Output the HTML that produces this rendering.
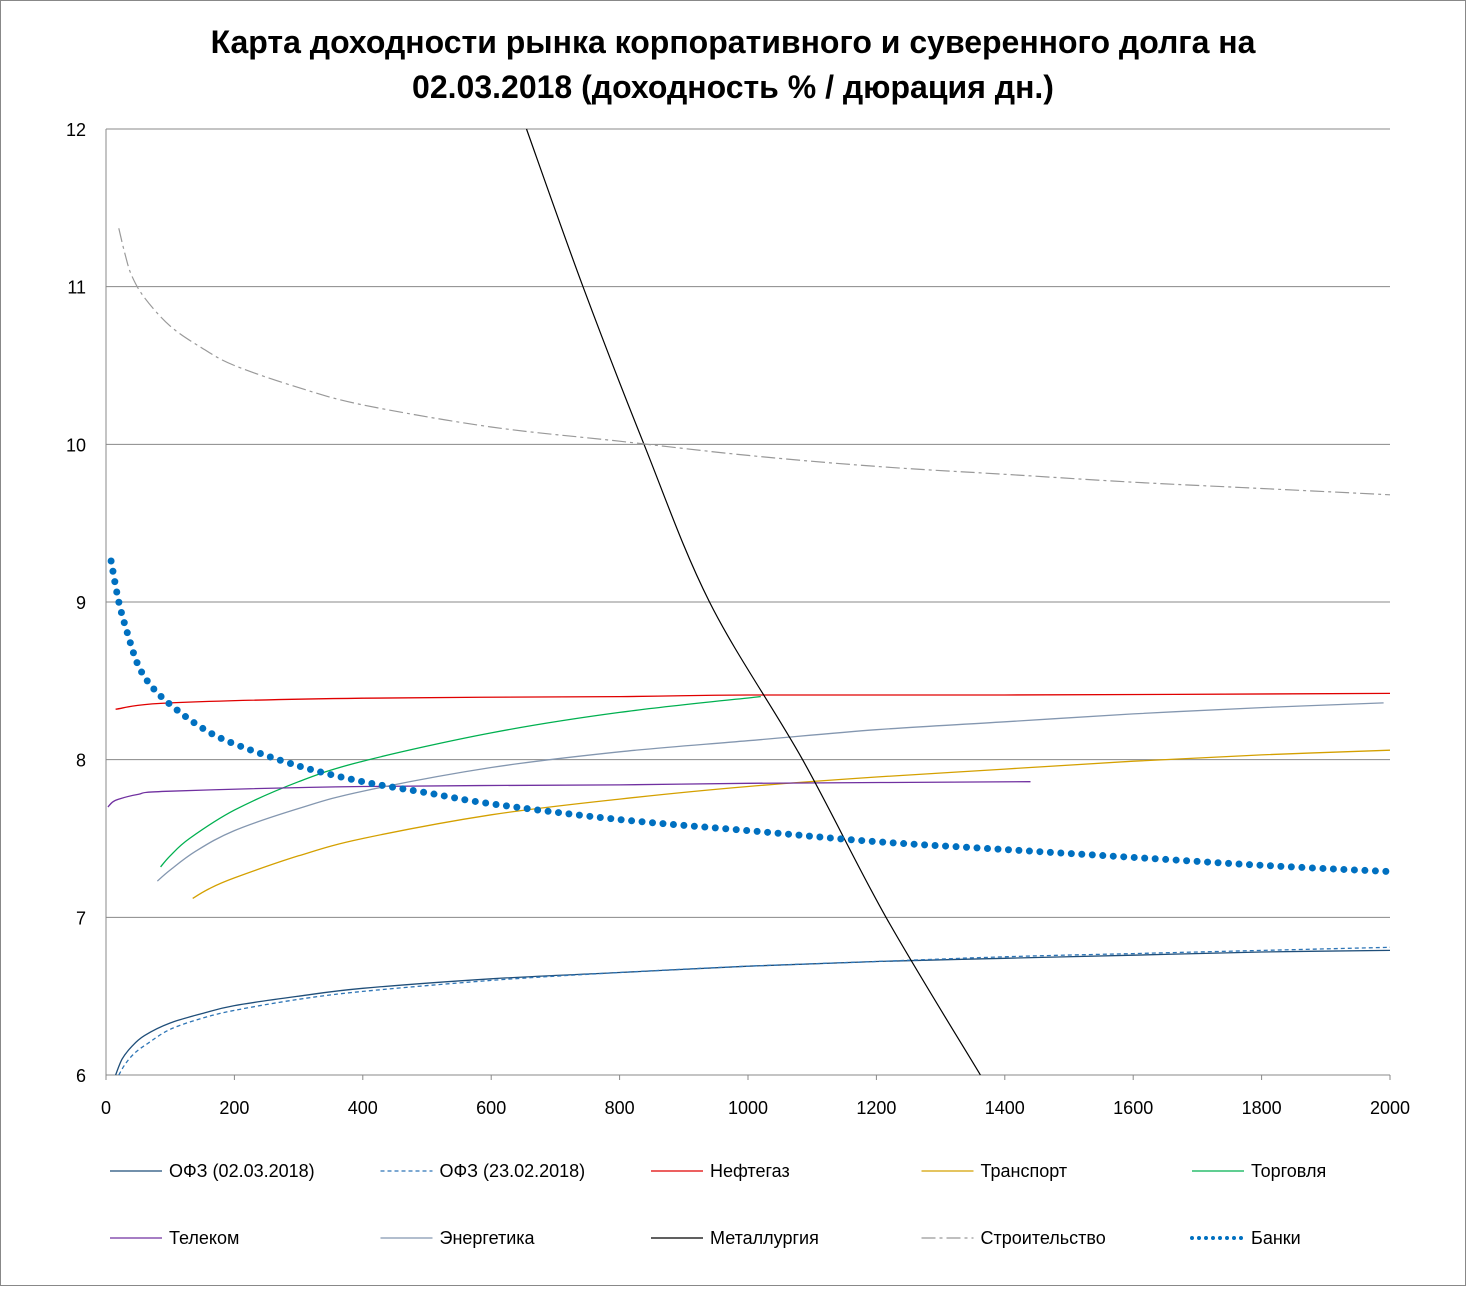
<!DOCTYPE html>
<html><head><meta charset="utf-8">
<style>
body{margin:0;background:#fff;font-family:"Liberation Sans","DejaVu Sans",sans-serif;}
svg text{font-family:"Liberation Sans","DejaVu Sans",sans-serif;}
</style></head>
<body>
<svg id="chart" width="1467" height="1287" xmlns="http://www.w3.org/2000/svg">
<rect x="0.5" y="0.5" width="1465" height="1285" fill="#fff" stroke="#888"/>
<text x="733" y="53" text-anchor="middle" font-size="32" font-weight="bold">Карта доходности рынка корпоративного и суверенного долга на</text>
<text x="733" y="98" text-anchor="middle" font-size="32" font-weight="bold">02.03.2018 (доходность % / дюрация дн.)</text>
<g id="grid"></g><g id="axes"></g><g id="series"></g><g id="legend"></g>
</svg>
<script>
const xTicks=[0,200,400,600,800,1000,1200,1400,1600,1800,2000];
const yTicks=[6,7,8,9,10,11,12];
const ofz0302X=[15,25,40,60,100,150,200,300,400,600,800,1000,1200,1400,1600,1800,2000];
const ofz0302Y=[6.0,6.1,6.18,6.25,6.33,6.39,6.44,6.5,6.55,6.61,6.65,6.69,6.72,6.74,6.76,6.78,6.79];
const ofz2302X=[20,30,45,65,100,150,200,300,400,600,800,1000,1200,1400,1600,1800,2000];
const ofz2302Y=[6.0,6.07,6.14,6.2,6.29,6.36,6.41,6.48,6.53,6.60,6.65,6.69,6.72,6.75,6.77,6.79,6.81];
const neftX=[15,100,400,800,1000,1400,2000];
const neftY=[8.32,8.36,8.39,8.40,8.41,8.41,8.42];
const transX=[135,160,200,300,400,600,800,1000,1200,1400,1600,1800,2000];
const transY=[7.12,7.18,7.25,7.39,7.50,7.65,7.75,7.83,7.89,7.94,7.99,8.03,8.06];
const tradeX=[85,100,130,200,300,400,600,800,1020];
const tradeY=[7.32,7.39,7.5,7.68,7.86,7.99,8.17,8.30,8.40];
const telecomX=[3,10,20,50,100,400,800,1000,1440];
const telecomY=[7.70,7.73,7.75,7.78,7.80,7.83,7.84,7.85,7.86];
const energyX=[80,100,140,200,300,400,600,800,1000,1200,1400,1600,1800,1990];
const energyY=[7.23,7.30,7.42,7.55,7.69,7.80,7.95,8.05,8.12,8.19,8.24,8.29,8.33,8.36];
const metalX=[655,743,838,940,1085,1215,1362];
const metalY=[12,11,10,9,8,7,6];
const buildX=[20,30,40,60,100,150,200,300,400,600,800,1000,1200,1400,1600,1800,2000];
const buildY=[11.37,11.2,11.07,10.93,10.75,10.61,10.5,10.36,10.25,10.11,10.02,9.93,9.86,9.81,9.76,9.72,9.68];
const bankX=[8,20,35,50,70,100,150,200,300,400,500,600,800,1000,1200,1400,1600,1800,2000];
const bankY=[9.26,9.0,8.78,8.6,8.47,8.35,8.2,8.1,7.96,7.86,7.79,7.72,7.62,7.55,7.48,7.43,7.38,7.33,7.29];

const X0=106,X1=1390,Y0=1075,Y1=129;
const sx=v=>X0+(v-0)/(2000)*(X1-X0);
const sy=v=>Y0-(v-6)/6*(Y0-Y1);
const NS='http://www.w3.org/2000/svg';
function mk(tag,attrs,parent){const e=document.createElementNS(NS,tag);for(const k in attrs)e.setAttribute(k,attrs[k]);parent.appendChild(e);return e;}
const grid=document.getElementById('grid'),axes=document.getElementById('axes'),ser=document.getElementById('series'),leg=document.getElementById('legend');
yTicks.forEach(t=>{
 if(t>6){const l=mk('line',{x1:X0,x2:X1,y1:sy(t),y2:sy(t),stroke:'#888','stroke-width':1},grid);
 
 }
 const tx=mk('text',{x:86,y:sy(t)+7,'text-anchor':'end','font-size':18},axes);tx.textContent=t;
 
 
});
xTicks.forEach(t=>{
 const tx=mk('text',{x:sx(t),y:1114,'text-anchor':'middle','font-size':18},axes);tx.textContent=t;
 
 
 const tk=mk('line',{x1:sx(t),x2:sx(t),y1:Y0,y2:Y0+5,stroke:'#888'},axes);
 
 
});
const ya=mk('line',{x1:X0,x2:X0,y1:Y1,y2:Y0,stroke:'#888'},axes);


const xa=mk('line',{x1:X0,x2:X1,y1:Y0,y2:Y0,stroke:'#888'},axes);


function pathD(xs,ys){
 const P=xs.map((x,i)=>[sx(x),sy(ys[i])]);
 let d='M'+P[0][0].toFixed(1)+','+P[0][1].toFixed(1);
 for(let i=0;i<P.length-1;i++){
  const p0=P[Math.max(0,i-1)],p1=P[i],p2=P[i+1],p3=P[Math.min(P.length-1,i+2)];
  const c1=[p1[0]+(p2[0]-p0[0])/6,p1[1]+(p2[1]-p0[1])/6];
  const c2=[p2[0]-(p3[0]-p1[0])/6,p2[1]-(p3[1]-p1[1])/6];
  d+='C'+c1[0].toFixed(1)+','+c1[1].toFixed(1)+' '+c2[0].toFixed(1)+','+c2[1].toFixed(1)+' '+p2[0].toFixed(1)+','+p2[1].toFixed(1);
 }
 return d;
}
const series=[
 {n:'ОФЗ (02.03.2018)',id:'ofz-0302',x:ofz0302X,y:ofz0302Y,c:'#1f4e79',w:1.3,da:''},
 {n:'ОФЗ (23.02.2018)',id:'ofz-2302',x:ofz2302X,y:ofz2302Y,c:'#2e75b6',w:1.3,da:'4 3'},
 {n:'Нефтегаз',id:'neftegaz',x:neftX,y:neftY,c:'#e00000',w:1.3,da:''},
 {n:'Транспорт',id:'transport',x:transX,y:transY,c:'#d4a000',w:1.3,da:''},
 {n:'Торговля',id:'torgovlya',x:tradeX,y:tradeY,c:'#00b050',w:1.3,da:''},
 {n:'Телеком',id:'telecom',x:telecomX,y:telecomY,c:'#7030a0',w:1.3,da:''},
 {n:'Энергетика',id:'energetika',x:energyX,y:energyY,c:'#8497b0',w:1.3,da:''},
 {n:'Металлургия',id:'metallurgiya',x:metalX,y:metalY,c:'#000',w:1.2,da:''},
 {n:'Строительство',id:'stroitelstvo',x:buildX,y:buildY,c:'#999',w:1.2,da:'14 4 3 4'},
 {n:'Банки',id:'banki',x:bankX,y:bankY,c:'#0070c0',w:7,da:'0 10.5',cap:'round'}
];
series.forEach((s,i)=>{
 const p=mk('path',{d:pathD(s.x,s.y),fill:'none',stroke:s.c,'stroke-width':s.w,'stroke-dasharray':s.da,'stroke-linecap':s.cap||'butt','stroke-linejoin':'round'},ser);
 
 
 const row=i<5?0:1,col=i%5;
 const lx=110+col*270.5,ly=row?1238:1171;
 const g=mk('g',{},leg);
 
 
 mk('line',{x1:lx,x2:lx+52,y1:ly,y2:ly,stroke:s.c,'stroke-width':s.id==='banki'?4:1.3,'stroke-dasharray':s.id==='banki'?'0 7':s.da,'stroke-linecap':s.cap||'butt'},g);
 const t=mk('text',{x:lx+59,y:ly+6,'font-size':18},g);t.textContent=s.n;
});
</script>
</body></html>
